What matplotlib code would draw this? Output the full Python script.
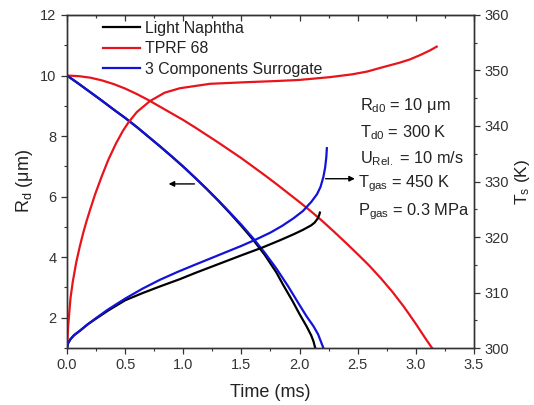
import matplotlib.pyplot as plt
from matplotlib.ticker import MultipleLocator

plt.rcParams['font.family'] = ['Liberation Sans', 'DejaVu Sans']
plt.rcParams['mathtext.fontset'] = 'custom'
plt.rcParams['mathtext.rm'] = 'Liberation Sans'
plt.rcParams['mathtext.it'] = 'Liberation Sans'

# droplet radius (um) vs time (ms)
t_rd_naphtha = [0, 0.1, 0.2, 0.3, 0.4, 0.5, 0.6, 0.7, 0.8, 0.9, 1.0, 1.1, 1.2, 1.3, 1.4, 1.5,
                1.6, 1.7, 1.8, 1.86, 1.94, 2.0, 2.06, 2.1, 2.12, 2.135]
rd_naphtha = [10, 9.73, 9.45, 9.17, 8.88, 8.6, 8.3, 7.98, 7.66, 7.33, 6.99, 6.63, 6.26, 5.87, 5.46, 5.03,
              4.58, 4.08, 3.5, 3.08, 2.55, 2.12, 1.72, 1.42, 1.22, 1.0]

t_rd_tprf = [0, 0.1, 0.2, 0.3, 0.4, 0.5, 0.6, 0.7, 0.8, 0.9, 1.0, 1.1, 1.2, 1.3, 1.4, 1.5, 1.6,
             1.7, 1.8, 1.9, 2.0, 2.1, 2.2, 2.3, 2.4, 2.5, 2.6, 2.7, 2.8, 2.9, 3.0, 3.06, 3.1, 3.14]
rd_tprf = [10, 9.98, 9.93, 9.84, 9.72, 9.57, 9.39, 9.19, 8.97, 8.75, 8.53, 8.29, 8.04, 7.79, 7.53, 7.27, 6.99,
           6.71, 6.42, 6.12, 5.82, 5.51, 5.18, 4.83, 4.47, 4.1, 3.72, 3.3, 2.85, 2.35, 1.8, 1.45, 1.22, 1.0]

t_rd_surr = [0, 0.1, 0.2, 0.3, 0.4, 0.5, 0.6, 0.7, 0.8, 0.9, 1.0, 1.1, 1.2, 1.3, 1.4, 1.5,
             1.6, 1.7, 1.8, 1.9, 2.0, 2.06, 2.12, 2.16, 2.19, 2.205]
rd_surr = [10, 9.73, 9.45, 9.17, 8.88, 8.6, 8.3, 7.98, 7.66, 7.33, 6.99, 6.63, 6.26, 5.88, 5.48, 5.07,
           4.63, 4.15, 3.63, 3.05, 2.42, 2.05, 1.72, 1.45, 1.15, 1.0]

# droplet surface temperature (K) vs time (ms)
t_ts_naphtha = [0, 0.01, 0.03, 0.06, 0.11, 0.18, 0.25, 0.35, 0.5, 0.65, 0.8, 0.97, 1.1, 1.3, 1.5,
                1.68, 1.83, 1.95, 2.03, 2.1, 2.13, 2.155, 2.17, 2.175]
ts_naphtha = [300, 300.9, 301.6, 302.3, 303.1, 304.3, 305.3, 306.7, 308.6, 309.9, 311.1, 312.4, 313.5, 315.1, 316.7,
              318.1, 319.4, 320.5, 321.3, 322.1, 322.6, 323.3, 324.0, 324.4]

t_ts_tprf = [0, 0.01, 0.03, 0.05, 0.08, 0.11, 0.14, 0.17, 0.2, 0.24, 0.3, 0.355, 0.42, 0.48,
             0.527, 0.6, 0.714, 0.84, 0.97, 1.1, 1.23, 1.55, 1.8, 2.0, 2.26, 2.45, 2.58, 2.7, 2.86,
             2.95, 3.04, 3.12, 3.18]
ts_tprf = [300, 304, 309, 312, 315.5, 318.3, 320.8, 323.0, 325.0, 327.6, 331.0, 333.9, 336.8, 339.1,
           340.6, 342.5, 344.5, 346.0, 346.8, 347.2, 347.6, 347.9, 348.1, 348.3, 348.8, 349.3, 349.8, 350.5, 351.4,
           352.0, 352.8, 353.6, 354.3]

t_ts_surr = [0, 0.01, 0.03, 0.06, 0.11, 0.18, 0.25, 0.35, 0.5, 0.65, 0.8, 0.95, 1.1, 1.3, 1.5,
             1.63, 1.75, 1.85, 1.95, 2.03, 2.1, 2.15, 2.18, 2.205, 2.22, 2.23, 2.235]
ts_surr = [300, 300.9, 301.6, 302.3, 303.1, 304.3, 305.4, 306.9, 308.9, 310.7, 312.3, 313.7, 315.0, 316.7, 318.4,
           319.6, 320.8, 322.0, 323.4, 324.7, 326.3, 327.7, 329.0, 330.8, 332.5, 334.3, 336.0]

fig = plt.figure(figsize=(5.34, 4.05), dpi=100)
ax = fig.add_axes([0.1255, 0.1407, 0.762, 0.8223])
ax2 = ax.twinx()

lw = 1.6
red = '#e8141c'
blue = '#1212d8'
ax.plot(t_rd_naphtha, rd_naphtha, color='black', lw=lw, label='Light Naphtha')
ax.plot(t_rd_tprf, rd_tprf, color=red, lw=lw, label='TPRF 68')
ax.plot(t_rd_surr, rd_surr, color=blue, lw=lw, label='3 Components Surrogate')

ax2.plot(t_ts_naphtha, ts_naphtha, color='black', lw=lw)
ax2.plot(t_ts_tprf, ts_tprf, color=red, lw=lw)
ax2.plot(t_ts_surr, ts_surr, color=blue, lw=lw)

ax.set_xlim(0, 3.5)
ax.set_ylim(1, 12)
ax2.set_ylim(300, 360)

ax.xaxis.set_major_locator(MultipleLocator(0.5))
ax.xaxis.set_minor_locator(MultipleLocator(0.25))
ax.yaxis.set_major_locator(MultipleLocator(2))
ax.yaxis.set_minor_locator(MultipleLocator(1))
ax2.yaxis.set_major_locator(MultipleLocator(10))
ax2.yaxis.set_minor_locator(MultipleLocator(5))
ax.xaxis.set_major_formatter(plt.FormatStrFormatter('%.1f'))

tick_col = '#333333'
ax.tick_params(axis='x', which='both', direction='out', top=False, labelsize=10.5, colors=tick_col)
ax.tick_params(axis='y', which='both', direction='out', labelsize=10.5, colors=tick_col)
ax2.tick_params(axis='y', which='both', direction='out', labelsize=10.5, colors=tick_col)
for a in (ax, ax2):
    a.tick_params(which='major', length=4, width=0.9)
    a.tick_params(which='minor', length=2.5, width=0.8)
    for sp in a.spines.values():
        sp.set_linewidth(1.0)
        sp.set_color(tick_col)

# mirrored ticks on the top spine, pointing inward
top = ax.secondary_xaxis('top')
top.xaxis.set_major_locator(MultipleLocator(0.5))
top.xaxis.set_minor_locator(MultipleLocator(0.25))
top.tick_params(which='both', direction='in', labeltop=False, width=0.9, colors=tick_col)
top.tick_params(which='major', length=4)
top.tick_params(which='minor', length=2.5)
top.spines['top'].set_color(tick_col)

ax.set_xlabel('Time (ms)', fontsize=13, color='#222222', labelpad=8)
ax.set_ylabel(r'R$_\mathregular{d}$ ($\mathregular{\mu}$m)', fontsize=13, color='#222222', labelpad=4)
ax2.set_ylabel(r'T$_\mathregular{s}$ (K)', fontsize=12.5, color='#222222', labelpad=3)

leg = ax.legend(loc='upper left', bbox_to_anchor=(0.0885, 0.982), frameon=False, fontsize=11.4,
                handlelength=2.35, handletextpad=0.3, labelspacing=0.34, borderpad=0, borderaxespad=0)
for txt in leg.get_texts():
    txt.set_color('#222222')

notes = [r'R$_\mathregular{d0}$ = 10 $\mathregular{\mu}$m',
         r'T$_\mathregular{d0}$ = 300 K',
         r'U$_\mathregular{Rel.}$ = 10 m/s',
         r'T$_\mathregular{gas}$ = 450 K',
         r'P$_\mathregular{gas}$ = 0.3 MPa']
note_x = [0.72, 0.72, 0.72, 0.715, 0.715]
note_y = [0.715, 0.634, 0.555, 0.483, 0.399]
for s, x, y in zip(notes, note_x, note_y):
    ax.text(x, y, s, transform=ax.transAxes, fontsize=11.8, color='#222222', va='baseline', ha='left')

# arrows pointing at the axis each curve group belongs to
ax.annotate('', xy=(0.85, 6.42), xytext=(1.12, 6.42),
            arrowprops=dict(arrowstyle='-|>', color='black', lw=1.0, mutation_scale=8))
ax2.annotate('', xy=(2.5, 330.5), xytext=(2.2, 330.5),
             arrowprops=dict(arrowstyle='-|>', color='black', lw=1.0, mutation_scale=8))

fig.savefig('out.png', dpi=100)
